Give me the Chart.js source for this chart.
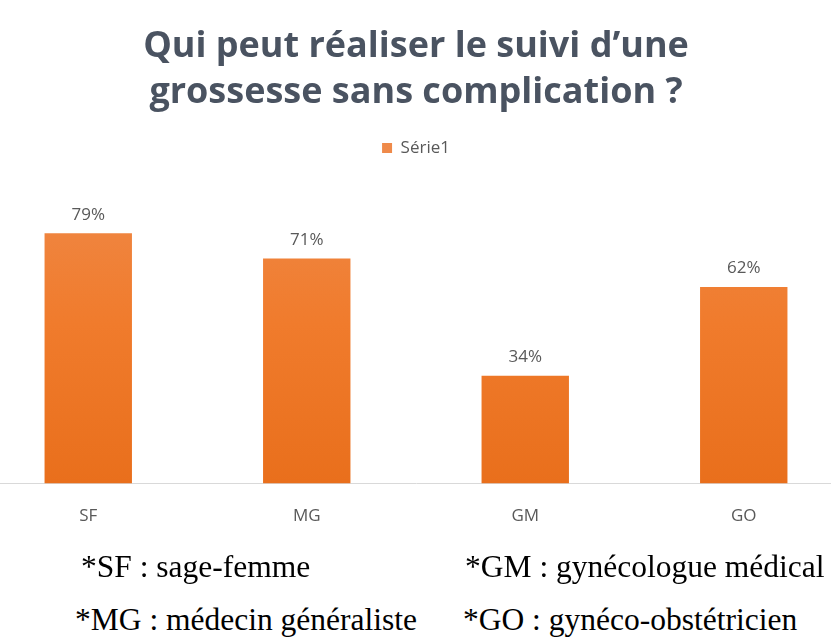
<!DOCTYPE html>
<html>
<head>
<meta charset="utf-8">
<script src="https://cdn.jsdelivr.net/npm/chart.js@4.4.0/dist/chart.umd.min.js"></script>
<style>
  body { margin: 0; background: #fff; }
  .page { position: relative; width: 831px; height: 638px; overflow: hidden; }
  .chart-box { position: absolute; left: -21px; top: 0; width: 874px; height: 554px; }
  .notes { position: absolute; left: 0; top: 540px; width: 831px; font-family: "Liberation Serif", "Times New Roman", serif; font-size: 31.5px; color: #000; }
  .notes span { position: absolute; white-space: nowrap; }
</style>
</head>
<body>
<div class="page">
  <div class="chart-box"><canvas id="barChart"></canvas></div>
  <div class="notes">
    <span style="left:81px; top:9px;">*SF : sage-femme</span>
    <span style="left:465px; top:9px;">*GM : gynécologue médical</span>
    <span style="left:75px; top:62px;">*MG : médecin généraliste</span>
    <span style="left:463px; top:62px;">*GO : gynéco-obstétricien</span>
  </div>
</div>
<script>
// Data
const categories = ['SF', 'MG', 'GM', 'GO'];
const serie1 = [79, 71, 34, 62];
const seriesName = 'Série1';
const chartTitle = ['Qui peut réaliser le suivi d\u2019une', 'grossesse sans complication ?'];

const textGray = '#595959';
const titleColor = '#4a5361';

// draws the % labels over each bar
const valueLabels = {
    id: 'valueLabels',
    afterDatasetsDraw(chart) {
        const ctx = chart.ctx;
        const meta = chart.getDatasetMeta(0);
        ctx.save();
        ctx.font = '17px "Open Sans", sans-serif';
        ctx.fillStyle = textGray;
        ctx.textAlign = 'center';
        ctx.textBaseline = 'bottom';
        meta.data.forEach((bar, i) => {
            ctx.fillText(serie1[i] + '%', bar.x, bar.y - 10);
        });
        ctx.restore();
    }
};

const ctx = document.getElementById('barChart').getContext('2d');

new Chart(ctx, {
    type: 'bar',
    data: {
        labels: categories,
        datasets: [{
            label: seriesName,
            data: serie1,
            backgroundColor: (c) => {
                const area = c.chart.chartArea;
                if (!area) return '#ed7d31';
                const g = c.chart.ctx.createLinearGradient(0, area.top, 0, area.bottom);
                g.addColorStop(0, '#ef8a4a');
                g.addColorStop(0.5, '#f07b2c');
                g.addColorStop(1, '#e96f1c');
                return g;
            },
            borderWidth: 0,
            barPercentage: 0.4,
            categoryPercentage: 1,
        }]
    },
    options: {
        responsive: true,
        maintainAspectRatio: false,
        animation: false,
        layout: { padding: { top: 23, bottom: 6 } },
        plugins: {
            title: {
                display: true,
                text: chartTitle,
                color: titleColor,
                font: { size: 36, weight: 'bold', family: "'Open Sans', sans-serif", lineHeight: 1.3 },
                padding: { top: 0, bottom: 13 },
            },
            legend: {
                labels: {
                    color: textGray,
                    font: { size: 17, family: "'Open Sans', sans-serif" },
                    boxWidth: 10,
                    boxHeight: 10,
                    padding: 10,
                },
            },
            tooltip: { enabled: false },
        },
        scales: {
            x: {
                grid: { display: false, drawTicks: false },
                border: { display: true, color: '#d9d9d9', width: 1 },
                ticks: {
                    color: textGray,
                    padding: 22,
                    font: { size: 17, family: "'Open Sans', sans-serif" },
                },
            },
            y: {
                display: false,
                min: 0,
                max: 100,
            },
        },
    },
    plugins: [valueLabels],
});
</script>
</body>
</html>
